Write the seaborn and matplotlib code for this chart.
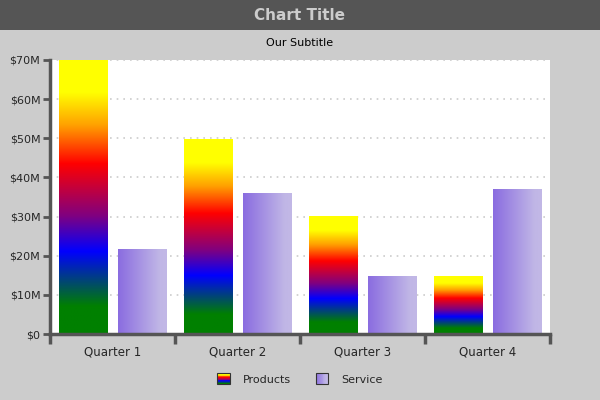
import numpy as np
import pandas as pd
import matplotlib
matplotlib.use("Agg")
import matplotlib.pyplot as plt
import seaborn as sns
from matplotlib.colors import LinearSegmentedColormap
from matplotlib.patches import Rectangle
from matplotlib.legend_handler import HandlerBase
from matplotlib.ticker import FuncFormatter, MultipleLocator

# data (millions of dollars)
quarters = ["Quarter 1", "Quarter 2", "Quarter 3", "Quarter 4"]
products = [70, 49.7, 29.9, 14.8]
service = [21.7, 35.8, 14.8, 36.8]
series = ["Products", "Service"]

df = pd.DataFrame({
    "quarter": quarters * 2,
    "kind": [series[0]] * 4 + [series[1]] * 4,
    "value": products + service,
})

# gradients
prod_cmap = LinearSegmentedColormap.from_list("prod", [
    (0.0, "#008000"), (0.10, "#008000"), (0.30, "#0000ff"), (0.43, "#800080"),
    (0.62, "#ff0000"), (0.76, "#ffa000"), (0.88, "#ffff00"), (1.0, "#ffff00")])
serv_cmap = LinearSegmentedColormap.from_list("serv", [
    (0.0, "#8a6ce0"), (0.85, "#c0b6e6"), (1.0, "#c2b8e6")])

sns.set_style("ticks")
plt.rcParams["font.family"] = ["DejaVu Sans"]

fig = plt.figure(figsize=(6, 4), dpi=100, facecolor="#cccccc")
ax = fig.add_axes([50 / 600, 66 / 400, 500 / 600, 274 / 400])
ax.set_facecolor("white")

# title bar
fig.patches.append(Rectangle((0, 370 / 400), 1, 30 / 400, transform=fig.transFigure,
                             facecolor="#555555", edgecolor="none", zorder=0))
fig.text(0.5, 1 - 15 / 400, "Chart Title", ha="center", va="center",
         fontsize=11, fontweight="bold", color="#cccccc")
fig.text(0.5, 1 - 43 / 400, "Our Subtitle", ha="center", va="center",
         fontsize=8, color="black")

sns.barplot(data=df, x="quarter", y="value", hue="kind", order=quarters,
            hue_order=series, width=0.944, gap=0.186, ax=ax, legend=False)

# replace flat fills with gradients
grad_v = np.linspace(0, 1, 256).reshape(-1, 1)
grad_h = np.linspace(0, 1, 256).reshape(1, -1)
for cont, cmap, grad in zip(ax.containers, [prod_cmap, serv_cmap], [grad_v, grad_h]):
    for bar in cont:
        x, w, h = bar.get_x(), bar.get_width(), bar.get_height()
        bar.set_facecolor("none")
        bar.set_edgecolor("none")
        ax.imshow(grad, cmap=cmap, extent=[x, x + w, 0, h], origin="lower",
                  aspect="auto", interpolation="bilinear", zorder=2)

ax.set_xlim(-0.5, 3.5)
ax.set_ylim(0, 70)
ax.set_xlabel("")
ax.set_ylabel("")

ax.yaxis.set_major_locator(MultipleLocator(10))
ax.yaxis.set_major_formatter(FuncFormatter(lambda v, p: "$0" if v == 0 else f"${v:.0f}M"))
ax.grid(axis="y", color="#cccccc", linestyle=(0, (1, 3)), linewidth=1.2)
ax.set_axisbelow(True)

ax.set_xticks(range(4))
ax.set_xticklabels(quarters)
ax.set_xticks([-0.5, 0.5, 1.5, 2.5, 3.5], minor=True)
ax.tick_params(axis="x", which="major", length=0, pad=8, labelsize=8.5)
ax.tick_params(axis="x", which="minor", bottom=True, length=7, width=2.5,
               color="#555555", direction="out")
ax.tick_params(axis="y", which="major", left=True, length=5, width=2,
               color="#555555", labelsize=8, pad=2, direction="out")
ax.tick_params(axis="y", which="minor", left=False)

for s in ["top", "right"]:
    ax.spines[s].set_visible(False)
for s in ["left", "bottom"]:
    ax.spines[s].set_color("#555555")
    ax.spines[s].set_linewidth(2.5)


class GradHandler(HandlerBase):
    def __init__(self, cmap, vertical):
        super().__init__()
        self.cmap = cmap
        self.vertical = vertical

    def create_artists(self, legend, orig_handle, xdescent, ydescent, width, height, fontsize, trans):
        n = 14
        arts = []
        x0, y0 = -xdescent, -ydescent
        for i in range(n):
            c = self.cmap((i + 0.5) / n)
            if self.vertical:
                r = Rectangle((x0, y0 + i * height / n), width, height / n, facecolor=c,
                              edgecolor="none", transform=trans)
            else:
                r = Rectangle((x0 + i * width / n, y0), width / n, height, facecolor=c,
                              edgecolor="none", transform=trans)
            arts.append(r)
        arts.append(Rectangle((x0, y0), width, height, fill=False, edgecolor="#333333",
                              linewidth=0.8, transform=trans))
        return arts


h1 = Rectangle((0, 0), 1, 1)
h2 = Rectangle((0, 1), 1, 1)
fig.legend([h1, h2], series, loc="center", bbox_to_anchor=(0.5, 1 - 379 / 400),
           ncol=2, frameon=False, fontsize=8, handlelength=1.1, handleheight=1.1,
           columnspacing=2.2, handletextpad=1.2,
           handler_map={h1: GradHandler(prod_cmap, True), h2: GradHandler(serv_cmap, False)})

fig.savefig("out.png", dpi=100, facecolor=fig.get_facecolor())
